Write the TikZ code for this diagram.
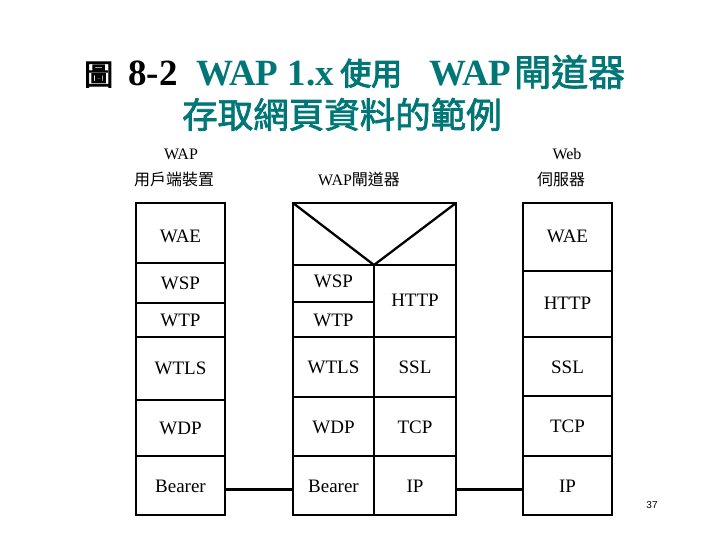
\documentclass[tikz,border=0pt]{standalone}
\usepackage{fontspec}
\setmainfont{Liberation Serif}
\newfontfamily\cjk{Noto Sans CJK TC}
\newfontfamily\cjkb{Noto Sans CJK TC}[FakeBold=2]
\newfontfamily\cjkbb{Noto Sans CJK TC}[FakeBold=3.5]
\newfontfamily\numfont{Liberation Sans}
\definecolor{titleteal}{RGB}{0,118,118}
\begin{document}
\begin{tikzpicture}[x=1pt,y=-1pt,
  box/.style={draw=black,line width=2.3pt},
  lay/.style={font=\fontsize{19}{21}\selectfont,inner sep=0pt,anchor=base},
  hdr/.style={font=\fontsize{16}{18}\selectfont,inner sep=0pt,anchor=base},
  ttl/.style={anchor=base west,inner sep=0pt},
  link/.style={draw=black,line width=3pt}]
\useasboundingbox (0,0) rectangle (720,540);
% title
\node[ttl,font=\cjkbb\fontsize{29}{30}\selectfont] (tfig) at (84,85) {圖};
\node[ttl,font=\bfseries\fontsize{37}{38}\selectfont] (tnum) at (128,86) {8-2};
\node[ttl,font=\bfseries\fontsize{37}{38}\selectfont,text=titleteal] (twap) at (196,86) {WAP 1.x};
\node[ttl,font=\cjkbb\fontsize{31}{32}\selectfont,text=titleteal] (tuse) at (340,85) {使用};
\node[ttl,font=\bfseries\fontsize{37}{38}\selectfont,text=titleteal] (twap2) at (429,86) {WAP};
\node[ttl,font=\cjkb\fontsize{37}{38}\selectfont,text=titleteal] (tgw) at (514,86) {閘道器};
\node[ttl,font=\cjkb\fontsize{35.5}{36}\selectfont,text=titleteal] (t2) at (182,128)
  {存取網頁資料的範例};
% headers
\node[hdr] (h1) at (181,160) {WAP};
\node[hdr,anchor=base west] (h1b) at (134,186) {\cjk 用戶端裝置};
\node[hdr,anchor=base west] (h2) at (318,186) {WAP\cjk 閘道器};
\node[hdr] (h3) at (567,160) {Web};
\node[hdr] (h3b) at (561,186) {\cjk 伺服器};
% left stack
\draw[box] (136,203) rectangle (225,515);
\foreach \y in {263,303,337,400,456} \draw[box] (136,\y) -- (225,\y);
% middle stack
\draw[box] (293,203) rectangle (456,515);
\draw[box] (293,265) -- (456,265);
\draw[box] (293,203) -- (374,265) -- (456,203);
\draw[box] (374,265) -- (374,515);
\draw[box] (293,302) -- (374,302);
\foreach \y in {337,397,456} \draw[box] (293,\y) -- (456,\y);
% right stack
\draw[box] (523,203) rectangle (612,515);
\foreach \y in {271,337,396,456} \draw[box] (523,\y) -- (612,\y);
% labels left
\node[lay] (lwae) at (180.5,242) {WAE};
\node[lay] (lwsp) at (180.5,289) {WSP};
\node[lay] (lwtp) at (180.5,326) {WTP};
\node[lay] (lwtls) at (180.5,374) {WTLS};
\node[lay] (lwdp) at (180.5,434) {WDP};
\node[lay] (lbear) at (180.5,492) {Bearer};
% labels middle
\node[lay] (mwsp) at (333.5,287) {WSP};
\node[lay] (mwtp) at (333.5,326) {WTP};
\node[lay] (mhttp) at (415,306) {HTTP};
\node[lay] (mwtls) at (333.5,373) {WTLS};
\node[lay] (mssl) at (415,373) {SSL};
\node[lay] (mwdp) at (333.5,433) {WDP};
\node[lay] (mtcp) at (415,433) {TCP};
\node[lay] (mbear) at (333.5,492) {Bearer};
\node[lay] (mip) at (415,492) {IP};
% labels right
\node[lay] (rwae) at (567.5,243) {WAE};
\node[lay] (rhttp) at (567.5,309) {HTTP};
\node[lay] (rssl) at (567.5,373) {SSL};
\node[lay] (rtcp) at (567.5,432) {TCP};
\node[lay] (rip) at (567.5,492) {IP};
% connectors
\coordinate (la) at (225,489);
\coordinate (lb) at (293,489);
\coordinate (ra) at (456,489);
\coordinate (rb) at (523,489);
\draw[link] (la) -- (lb);
\draw[link] (ra) -- (rb);
% page number
\node[inner sep=0pt,font=\numfont\fontsize{10}{12}\selectfont] (pg) at (652,505) {37};
\end{tikzpicture}
\end{document}
